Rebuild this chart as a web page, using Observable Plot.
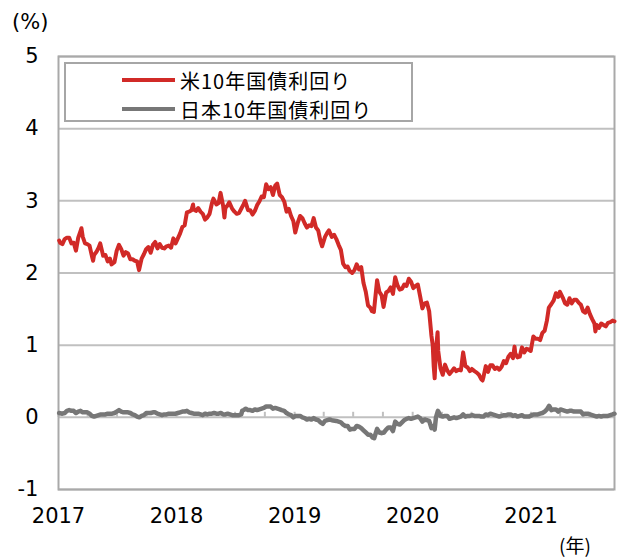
<!DOCTYPE html>
<html><head><meta charset="utf-8">
<script src="https://cdn.jsdelivr.net/npm/d3@7"></script>
<script src="https://cdn.jsdelivr.net/npm/@observablehq/plot@0.6"></script>
<style>
body{margin:0;background:#fff;}
#wrap{position:relative;width:622px;height:557px;font-family:"DejaVu Sans",sans-serif;color:#000;}
.unit{position:absolute;font-size:21px;line-height:1;}
#legend{position:absolute;left:64px;top:62px;width:345px;height:56px;border:2px solid #a6a6a6;background:#fff;font-family:"Noto Sans CJK JP",sans-serif;font-size:20px;}
.item{position:absolute;left:56px;height:24px;display:flex;align-items:center;white-space:nowrap;letter-spacing:1px;}
.sw{display:inline-block;width:53px;height:4px;margin-right:5px;}
</style></head>
<body><div id="wrap"></div>
<script>
// US 10-year yield (%), weekly readings
const usYield = [
["2017-01-03",2.45],["2017-01-06",2.42],["2017-01-13",2.40],["2017-01-20",2.47],["2017-01-27",2.49],["2017-02-03",2.49],["2017-02-10",2.41],["2017-02-17",2.42],["2017-02-24",2.31],["2017-03-03",2.49],["2017-03-10",2.58],["2017-03-13",2.62],["2017-03-17",2.50],["2017-03-24",2.41],["2017-03-31",2.40],["2017-04-07",2.38],["2017-04-14",2.24],["2017-04-18",2.17],["2017-04-21",2.25],["2017-04-28",2.29],["2017-05-05",2.35],["2017-05-10",2.41],["2017-05-19",2.24],["2017-05-26",2.25],["2017-06-02",2.16],["2017-06-09",2.20],["2017-06-14",2.12],["2017-06-23",2.15],["2017-06-30",2.31],["2017-07-07",2.39],["2017-07-14",2.33],["2017-07-21",2.24],["2017-07-28",2.29],["2017-08-04",2.27],["2017-08-11",2.19],["2017-08-18",2.19],["2017-08-25",2.17],["2017-09-01",2.16],["2017-09-07",2.04],["2017-09-15",2.20],["2017-09-22",2.26],["2017-09-29",2.33],["2017-10-06",2.36],["2017-10-13",2.28],["2017-10-20",2.39],["2017-10-27",2.43],["2017-11-03",2.34],["2017-11-10",2.40],["2017-11-17",2.35],["2017-11-24",2.34],["2017-12-01",2.37],["2017-12-08",2.38],["2017-12-15",2.35],["2017-12-22",2.48],["2017-12-29",2.41],
["2018-01-05",2.48],["2018-01-12",2.55],["2018-01-19",2.64],["2018-01-26",2.66],["2018-02-02",2.84],["2018-02-09",2.85],["2018-02-16",2.87],["2018-02-21",2.95],["2018-02-23",2.88],["2018-03-02",2.86],["2018-03-09",2.90],["2018-03-16",2.85],["2018-03-23",2.82],["2018-03-30",2.74],["2018-04-06",2.77],["2018-04-13",2.82],["2018-04-20",2.96],["2018-04-25",3.03],["2018-05-04",2.95],["2018-05-11",2.97],["2018-05-17",3.11],["2018-05-25",2.93],["2018-05-29",2.77],["2018-06-01",2.90],["2018-06-08",2.94],["2018-06-13",2.98],["2018-06-22",2.89],["2018-06-29",2.85],["2018-07-06",2.82],["2018-07-13",2.83],["2018-07-20",2.89],["2018-07-27",2.95],["2018-08-01",3.00],["2018-08-10",2.87],["2018-08-17",2.87],["2018-08-24",2.81],["2018-08-31",2.86],["2018-09-07",2.94],["2018-09-14",2.99],["2018-09-21",3.06],["2018-09-28",3.05],["2018-10-05",3.23],["2018-10-12",3.16],["2018-10-19",3.19],["2018-10-26",3.08],["2018-11-02",3.21],["2018-11-08",3.24],["2018-11-16",3.08],["2018-11-23",3.05],["2018-11-30",2.99],["2018-12-07",2.85],["2018-12-14",2.89],["2018-12-21",2.79],["2018-12-28",2.72],
["2019-01-03",2.56],["2019-01-11",2.70],["2019-01-18",2.79],["2019-01-25",2.76],["2019-02-01",2.69],["2019-02-08",2.63],["2019-02-15",2.66],["2019-02-22",2.65],["2019-03-01",2.76],["2019-03-08",2.63],["2019-03-15",2.59],["2019-03-22",2.44],["2019-03-27",2.37],["2019-04-05",2.50],["2019-04-12",2.56],["2019-04-17",2.59],["2019-04-26",2.50],["2019-05-03",2.53],["2019-05-10",2.47],["2019-05-17",2.39],["2019-05-24",2.32],["2019-05-31",2.13],["2019-06-07",2.08],["2019-06-14",2.09],["2019-06-20",2.03],["2019-06-28",2.00],["2019-07-05",2.04],["2019-07-12",2.12],["2019-07-19",2.05],["2019-07-26",2.08],["2019-08-02",1.86],["2019-08-09",1.74],["2019-08-16",1.55],["2019-08-23",1.52],["2019-08-28",1.47],["2019-09-03",1.46],["2019-09-13",1.90],["2019-09-20",1.74],["2019-09-27",1.69],["2019-10-03",1.53],["2019-10-11",1.73],["2019-10-18",1.75],["2019-10-25",1.80],["2019-11-01",1.71],["2019-11-08",1.94],["2019-11-15",1.83],["2019-11-22",1.77],["2019-11-29",1.78],["2019-12-06",1.84],["2019-12-13",1.82],["2019-12-20",1.92],["2019-12-27",1.88],
["2020-01-03",1.79],["2020-01-10",1.82],["2020-01-17",1.84],["2020-01-24",1.68],["2020-01-31",1.51],["2020-02-07",1.58],["2020-02-14",1.59],["2020-02-21",1.47],["2020-02-28",1.13],["2020-03-03",1.00],["2020-03-06",0.71],["2020-03-09",0.54],["2020-03-13",0.94],["2020-03-18",1.18],["2020-03-20",0.92],["2020-03-27",0.68],["2020-04-03",0.59],["2020-04-10",0.73],["2020-04-17",0.65],["2020-04-24",0.60],["2020-05-01",0.64],["2020-05-08",0.68],["2020-05-15",0.64],["2020-05-22",0.66],["2020-05-29",0.65],["2020-06-05",0.90],["2020-06-12",0.71],["2020-06-19",0.69],["2020-06-26",0.64],["2020-07-02",0.67],["2020-07-10",0.64],["2020-07-17",0.62],["2020-07-24",0.59],["2020-07-31",0.53],["2020-08-04",0.51],["2020-08-07",0.56],["2020-08-14",0.71],["2020-08-21",0.63],["2020-08-28",0.72],["2020-09-04",0.72],["2020-09-11",0.67],["2020-09-18",0.69],["2020-09-25",0.66],["2020-10-02",0.70],["2020-10-09",0.78],["2020-10-16",0.75],["2020-10-23",0.84],["2020-10-30",0.88],["2020-11-06",0.82],["2020-11-11",0.98],["2020-11-13",0.89],["2020-11-20",0.83],["2020-11-27",0.84],["2020-12-04",0.97],["2020-12-11",0.90],["2020-12-18",0.95],["2020-12-24",0.94],["2020-12-31",0.92],
["2021-01-08",1.12],["2021-01-15",1.09],["2021-01-22",1.09],["2021-01-29",1.07],["2021-02-05",1.17],["2021-02-12",1.20],["2021-02-19",1.34],["2021-02-25",1.52],["2021-03-05",1.57],["2021-03-12",1.62],["2021-03-19",1.72],["2021-03-26",1.67],["2021-03-31",1.74],["2021-04-09",1.66],["2021-04-16",1.58],["2021-04-23",1.56],["2021-04-30",1.65],["2021-05-07",1.58],["2021-05-14",1.63],["2021-05-21",1.63],["2021-05-28",1.59],["2021-06-04",1.56],["2021-06-11",1.47],["2021-06-18",1.45],["2021-06-25",1.52],["2021-07-02",1.43],["2021-07-09",1.36],["2021-07-16",1.30],["2021-07-19",1.19],["2021-07-23",1.28],["2021-07-30",1.24],["2021-08-06",1.30],["2021-08-13",1.28],["2021-08-20",1.26],["2021-08-27",1.31],["2021-09-03",1.32],["2021-09-10",1.34],["2021-09-16",1.33]
];
// Japan 10-year yield (%), weekly readings
const jpYield = [
["2017-01-03",0.06],["2017-01-13",0.05],["2017-01-20",0.06],["2017-01-27",0.09],["2017-02-03",0.10],["2017-02-10",0.09],["2017-02-17",0.09],["2017-02-24",0.06],["2017-03-03",0.08],["2017-03-10",0.09],["2017-03-17",0.07],["2017-03-24",0.07],["2017-03-31",0.07],["2017-04-07",0.05],["2017-04-14",0.02],["2017-04-21",0.01],["2017-04-28",0.02],["2017-05-05",0.03],["2017-05-12",0.04],["2017-05-19",0.04],["2017-05-26",0.04],["2017-06-02",0.05],["2017-06-09",0.05],["2017-06-16",0.05],["2017-06-23",0.06],["2017-06-30",0.08],["2017-07-07",0.10],["2017-07-14",0.08],["2017-07-21",0.07],["2017-07-28",0.07],["2017-08-04",0.07],["2017-08-11",0.06],["2017-08-18",0.04],["2017-08-25",0.03],["2017-09-01",0.01],["2017-09-08",0.00],["2017-09-15",0.02],["2017-09-22",0.03],["2017-09-29",0.06],["2017-10-06",0.06],["2017-10-13",0.06],["2017-10-20",0.07],["2017-10-27",0.07],["2017-11-03",0.05],["2017-11-10",0.04],["2017-11-17",0.03],["2017-11-24",0.04],["2017-12-01",0.04],["2017-12-08",0.05],["2017-12-15",0.05],["2017-12-22",0.05],["2017-12-29",0.05],
["2018-01-05",0.06],["2018-01-12",0.07],["2018-01-19",0.08],["2018-01-26",0.08],["2018-02-02",0.09],["2018-02-09",0.07],["2018-02-16",0.06],["2018-02-23",0.05],["2018-03-02",0.05],["2018-03-09",0.05],["2018-03-16",0.04],["2018-03-23",0.03],["2018-03-30",0.05],["2018-04-06",0.04],["2018-04-13",0.05],["2018-04-20",0.05],["2018-04-27",0.06],["2018-05-04",0.05],["2018-05-11",0.05],["2018-05-18",0.06],["2018-05-25",0.04],["2018-06-01",0.04],["2018-06-08",0.05],["2018-06-15",0.04],["2018-06-22",0.03],["2018-06-29",0.03],["2018-07-06",0.03],["2018-07-13",0.03],["2018-07-20",0.04],["2018-07-23",0.09],["2018-07-27",0.10],["2018-08-03",0.12],["2018-08-10",0.10],["2018-08-17",0.10],["2018-08-24",0.09],["2018-08-31",0.11],["2018-09-07",0.10],["2018-09-14",0.11],["2018-09-21",0.12],["2018-09-28",0.13],["2018-10-05",0.15],["2018-10-12",0.15],["2018-10-19",0.15],["2018-10-26",0.12],["2018-11-02",0.13],["2018-11-09",0.12],["2018-11-16",0.11],["2018-11-22",0.10],["2018-11-30",0.09],["2018-12-07",0.06],["2018-12-14",0.04],["2018-12-21",0.03],["2018-12-28",0.00],
["2019-01-04",0.02],["2019-01-11",0.02],["2019-01-18",0.02],["2019-01-25",0.00],["2019-02-01",-0.01],["2019-02-08",-0.03],["2019-02-15",-0.02],["2019-02-22",-0.03],["2019-03-01",-0.01],["2019-03-08",-0.03],["2019-03-15",-0.04],["2019-03-22",-0.07],["2019-03-29",-0.09],["2019-04-05",-0.05],["2019-04-12",-0.04],["2019-04-19",-0.03],["2019-04-26",-0.04],["2019-05-10",-0.05],["2019-05-17",-0.06],["2019-05-24",-0.07],["2019-05-31",-0.10],["2019-06-07",-0.12],["2019-06-14",-0.12],["2019-06-21",-0.17],["2019-06-28",-0.16],["2019-07-05",-0.16],["2019-07-12",-0.12],["2019-07-19",-0.13],["2019-07-26",-0.15],["2019-08-02",-0.18],["2019-08-09",-0.21],["2019-08-16",-0.24],["2019-08-23",-0.24],["2019-08-30",-0.28],["2019-09-04",-0.29],["2019-09-13",-0.16],["2019-09-20",-0.21],["2019-09-27",-0.22],["2019-10-04",-0.21],["2019-10-11",-0.17],["2019-10-18",-0.14],["2019-10-25",-0.14],["2019-11-01",-0.19],["2019-11-08",-0.06],["2019-11-15",-0.09],["2019-11-22",-0.10],["2019-11-29",-0.07],["2019-12-06",-0.04],["2019-12-13",-0.02],["2019-12-20",-0.01],["2019-12-27",-0.02],
["2020-01-03",-0.01],["2020-01-10",0.00],["2020-01-17",0.01],["2020-01-24",-0.01],["2020-01-31",-0.06],["2020-02-07",-0.03],["2020-02-14",-0.04],["2020-02-21",-0.05],["2020-02-28",-0.15],["2020-03-06",-0.12],["2020-03-09",-0.17],["2020-03-13",0.00],["2020-03-19",0.09],["2020-03-27",0.02],["2020-04-03",0.01],["2020-04-10",0.02],["2020-04-17",0.02],["2020-04-24",-0.02],["2020-05-01",-0.01],["2020-05-08",0.00],["2020-05-15",-0.01],["2020-05-22",0.00],["2020-05-29",0.01],["2020-06-05",0.04],["2020-06-12",0.01],["2020-06-19",0.02],["2020-06-26",0.02],["2020-07-03",0.03],["2020-07-10",0.02],["2020-07-17",0.02],["2020-07-24",0.02],["2020-07-31",0.01],["2020-08-07",0.01],["2020-08-14",0.04],["2020-08-21",0.03],["2020-08-28",0.05],["2020-09-04",0.04],["2020-09-11",0.03],["2020-09-18",0.02],["2020-09-25",0.01],["2020-10-02",0.02],["2020-10-09",0.03],["2020-10-16",0.03],["2020-10-23",0.04],["2020-10-30",0.04],["2020-11-06",0.02],["2020-11-13",0.03],["2020-11-20",0.01],["2020-11-27",0.02],["2020-12-04",0.03],["2020-12-11",0.01],["2020-12-18",0.01],["2020-12-25",0.01],["2020-12-30",0.02],
["2021-01-08",0.04],["2021-01-15",0.04],["2021-01-22",0.04],["2021-01-29",0.05],["2021-02-05",0.06],["2021-02-12",0.08],["2021-02-19",0.11],["2021-02-26",0.16],["2021-03-05",0.10],["2021-03-12",0.11],["2021-03-19",0.11],["2021-03-26",0.08],["2021-04-02",0.11],["2021-04-09",0.10],["2021-04-16",0.09],["2021-04-23",0.08],["2021-04-30",0.09],["2021-05-07",0.09],["2021-05-14",0.08],["2021-05-21",0.08],["2021-05-28",0.08],["2021-06-04",0.08],["2021-06-11",0.04],["2021-06-18",0.05],["2021-06-25",0.05],["2021-07-02",0.04],["2021-07-09",0.03],["2021-07-16",0.02],["2021-07-23",0.01],["2021-07-30",0.02],["2021-08-06",0.01],["2021-08-13",0.02],["2021-08-20",0.02],["2021-08-27",0.02],["2021-09-03",0.03],["2021-09-10",0.04],["2021-09-16",0.05]
];
const yTicks = [-1,0,1,2,3,4,5];
const yearTicks = ["2017-01-01","2018-01-01","2019-01-01","2020-01-01","2021-01-01"];
const seriesNames = ["米10年国債利回り","日本10年国債利回り"];
const seriesColors = ["#d12a27","#777777"];

const parse = d3.utcParse("%Y-%m-%d");
const us = usYield.map(([d,v])=>({date:parse(d), value:v}));
const jp = jpYield.map(([d,v])=>({date:parse(d), value:v}));
const xDomain = [parse("2017-01-01"), parse("2021-09-16")];
const quarters = d3.utcMonth.every(3).range(xDomain[0], xDomain[1]);

const chart = Plot.plot({
  width:622, height:557,
  marginTop:56, marginBottom:68, marginLeft:58, marginRight:8,
  style:{fontFamily:"DejaVu Sans, sans-serif", fontSize:"21px", color:"#000", background:"#fff"},
  x:{type:"utc", domain:xDomain},
  y:{domain:[-1,5]},
  marks:[
    Plot.gridY(yTicks, {stroke:"#c0c0c0", strokeOpacity:1, strokeWidth:2}),
    Plot.ruleX(quarters, {x:d=>d, y1:0, y2:0.07, stroke:"#c0c0c0", strokeWidth:2}),
    Plot.frame({stroke:"#a9a9a9", strokeWidth:2}),
    Plot.axisY({ticks:yTicks, tickSize:0, tickPadding:20, tickFormat:d=>String(d), fontSize:21, label:null}),
    Plot.axisX({ticks:yearTicks.map(parse), tickSize:0, tickPadding:19, tickFormat:d3.utcFormat("%Y"), fontSize:21, label:null}),
    Plot.line(jp, {x:"date", y:"value", stroke:seriesColors[1], strokeWidth:4.5, strokeLinejoin:"round"}),
    Plot.line(us, {x:"date", y:"value", stroke:seriesColors[0], strokeWidth:4, strokeLinejoin:"round"})
  ]
});
const wrap = document.getElementById("wrap");
wrap.appendChild(chart);
chart.style.position="absolute"; chart.style.left="0"; chart.style.top="0";

const u1 = document.createElement("div"); u1.className="unit"; u1.textContent="(%)";
u1.style.left="12px"; u1.style.top="12px"; wrap.appendChild(u1);
const u2 = document.createElement("div"); u2.className="unit"; u2.textContent="(年)";
u2.style.left="559px"; u2.style.top="535px"; u2.style.fontFamily='"Noto Sans CJK JP", sans-serif'; u2.style.fontSize="19px"; wrap.appendChild(u2);

const lg = document.createElement("div"); lg.id="legend";
seriesNames.forEach((n,i)=>{
  const it=document.createElement("div"); it.className="item"; it.style.top=(i===0?4:33)+"px";
  const sw=document.createElement("span"); sw.className="sw"; sw.style.background=seriesColors[i];
  const tx=document.createElement("span"); tx.textContent=n;
  it.appendChild(sw); it.appendChild(tx); lg.appendChild(it);
});
wrap.appendChild(lg);
</script></body></html>
